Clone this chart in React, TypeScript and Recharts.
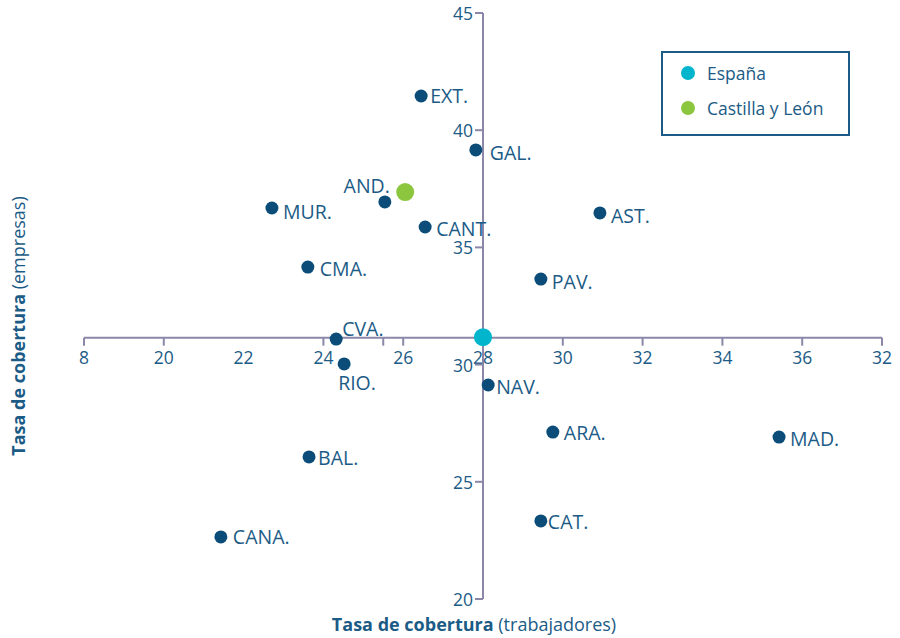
import React from "react";
import {
  ScatterChart,
  Scatter,
  XAxis,
  YAxis,
  ReferenceLine,
  ReferenceDot,
  Legend,
  Customized,
} from "recharts";

// ---- data ----
const regions = ["EXT.", "GAL.", "AND.", "MUR.", "CANT.", "AST.", "CMA.", "PAV.", "CVA.", "RIO.", "NAV.", "ARA.", "MAD.", "BAL.", "CAT.", "CANA."];
const trabajadores = [26.45, 27.82, 25.54, 22.71, 26.55, 30.93, 23.61, 29.45, 24.32, 24.52, 28.13, 29.75, 35.42, 23.64, 29.45, 21.43];
const empresas = [41.46, 39.16, 36.94, 36.68, 35.87, 36.47, 34.16, 33.65, 31.09, 30.03, 29.13, 27.12, 26.91, 26.06, 23.33, 22.65];

const espanaPoint = [{ name: "España", x: 28.0, y: 31.17 }];
const cylPoint = [{ name: "Castilla y León", x: 26.05, y: 37.36 }];

const xTickValues = [18, 20, 22, 24, 26, 28, 30, 32, 34, 36, 38];
const xTickLabels = ["8", "20", "22", "24", "26", "28", "30", "32", "34", "36", "32"];
const xTickMarks = [18, 20, 24, 25.5, 26, 30, 32, 34, 36, 38];
const yTickValues = [20, 25, 30, 35, 40, 45];
const yTickLabels = ["20", "25", "30", "35", "40", "45"];

const axisCrossX = 28;
const axisCrossY = 31.15;

const regionData = regions.map((name, i) => ({ name, x: trabajadores[i], y: empresas[i] }));

// ---- styles ----
const FONT = "'Open Sans', sans-serif";
const TEXT = "#1b5b86";
const DOT = "#0b4d78";
const AXIS = "#8a87a8";
const ESP = "#00b5cc";
const CYL = "#8cc63f";

const labelPos: Record<string, { dx: number; dy: number; anchor: "start" | "end" }> = {
  "EXT.": { dx: 9, dy: 0, anchor: "start" },
  "GAL.": { dx: 14, dy: 3, anchor: "start" },
  "AND.": { dx: 5, dy: -16, anchor: "end" },
  "MUR.": { dx: 11, dy: 3, anchor: "start" },
  "CANT.": { dx: 11, dy: 1, anchor: "start" },
  "AST.": { dx: 11, dy: 3, anchor: "start" },
  "CMA.": { dx: 12, dy: 1, anchor: "start" },
  "PAV.": { dx: 11, dy: 2, anchor: "start" },
  "CVA.": { dx: 6, dy: -11, anchor: "start" },
  "RIO.": { dx: -6, dy: 19, anchor: "start" },
  "NAV.": { dx: 8, dy: 2, anchor: "start" },
  "ARA.": { dx: 11, dy: 0, anchor: "start" },
  "MAD.": { dx: 11, dy: 1, anchor: "start" },
  "BAL.": { dx: 9, dy: 1, anchor: "start" },
  "CAT.": { dx: 7, dy: 1, anchor: "start" },
  "CANA.": { dx: 12, dy: 0, anchor: "start" },
};

const RegionShape = (props: any) => {
  const { cx, cy, payload } = props;
  const p = labelPos[payload.name] || { dx: 11, dy: 0, anchor: "start" };
  return (
    <g>
      <circle cx={cx} cy={cy} r={6.5} fill={DOT} />
      <text
        x={cx + p.dx}
        y={cy + p.dy}
        textAnchor={p.anchor}
        dominantBaseline="central"
        fill={TEXT}
        fontSize={19.5}
        fontFamily={FONT}
      >
        {payload.name}
      </text>
    </g>
  );
};

const BigDot = (color: string) => (props: any) => (
  <circle cx={props.cx} cy={props.cy} r={9} fill={color} />
);

const XTick = (label: string, mark: boolean) => (props: any) => {
  const { cx, cy } = props;
  return (
    <g>
      {mark && <line x1={cx} y1={cy} x2={cx} y2={cy + 8} stroke={AXIS} strokeWidth={2} />}
      {label !== "" && (
        <text x={cx} y={cy + 19} textAnchor="middle" dominantBaseline="central" fill={TEXT} fontSize={17.5} fontFamily={FONT}>
          {label}
        </text>
      )}
    </g>
  );
};

const YTick = (label: string) => (props: any) => {
  const { cx, cy } = props;
  return (
    <g>
      <line x1={cx - 8} y1={cy} x2={cx} y2={cy} stroke={AXIS} strokeWidth={2} />
      <text x={cx - 10} y={cy} textAnchor="end" dominantBaseline="central" fill={TEXT} fontSize={17.5} fontFamily={FONT}>
        {label}
      </text>
    </g>
  );
};

const Titles = () => (
  <g>
    <text x={474} y={624} textAnchor="middle" dominantBaseline="central" fill={TEXT} fontSize={18} fontFamily={FONT}>
      <tspan fontWeight="bold">Tasa de cobertura</tspan>
      <tspan> (trabajadores)</tspan>
    </text>
    <text
      x={18}
      y={326}
      textAnchor="middle"
      dominantBaseline="central"
      fill={TEXT}
      fontSize={18}
      fontFamily={FONT}
      transform="rotate(-90 18 326)"
    >
      <tspan fontWeight="bold">Tasa de cobertura</tspan>
      <tspan> (empresas)</tspan>
    </text>
  </g>
);

const LegendBox = () => (
  <div
    style={{
      width: 185,
      height: 81,
      border: `2px solid ${TEXT}`,
      background: "#fff",
      fontFamily: FONT,
      fontSize: 17.5,
      color: TEXT,
      boxSizing: "content-box",
    }}
  >
    {[
      { name: "España", color: ESP },
      { name: "Castilla y León", color: CYL },
    ].map((it, i) => (
      <div key={it.name} style={{ position: "absolute", left: 20, top: 11 + i * 35, display: "flex", alignItems: "center", height: 22 }}>
        <span style={{ width: 14, height: 14, borderRadius: 7, background: it.color, display: "inline-block", marginRight: 12 }} />
        <span>{it.name}</span>
      </div>
    ))}
  </div>
);

export default function App() {
  return (
    <div style={{ position: "absolute", left: 0, top: 0, width: 900, height: 638, background: "#fff" }}>
      <ScatterChart width={900} height={638} margin={{ top: 13, right: 18, bottom: 39, left: 84 }}>
        <XAxis type="number" dataKey="x" domain={[18, 38]} hide />
        <YAxis type="number" dataKey="y" domain={[20, 45]} hide />
        <ReferenceLine y={axisCrossY} stroke={AXIS} strokeWidth={2} />
        <ReferenceLine x={axisCrossX} stroke={AXIS} strokeWidth={2} />
        {xTickValues.map((v, i) => (
          <ReferenceDot
            key={"xl" + v}
            x={v}
            y={axisCrossY}
            r={1}
            ifOverflow="visible"
            shape={XTick(xTickLabels[i], false)}
          />
        ))}
        {xTickMarks.map((v) => (
          <ReferenceDot key={"xm" + v} x={v} y={axisCrossY} r={1} ifOverflow="visible" shape={XTick("", true)} />
        ))}
        {yTickValues.map((v, i) => (
          <ReferenceDot key={"y" + v} x={axisCrossX} y={v} r={1} ifOverflow="visible" shape={YTick(yTickLabels[i])} />
        ))}
        <Scatter data={regionData} shape={RegionShape} isAnimationActive={false} legendType="none" />
        <Scatter name="España" data={espanaPoint} shape={BigDot(ESP)} isAnimationActive={false} />
        <Scatter name="Castilla y León" data={cylPoint} shape={BigDot(CYL)} isAnimationActive={false} />
        <Legend
          layout="vertical"
          align="center"
          verticalAlign="middle"
          content={() => <LegendBox />}
          wrapperStyle={{ position: "absolute", left: 661, top: 51, width: 189, height: 85 }}
        />
        <Customized component={<Titles />} />
      </ScatterChart>
    </div>
  );
}
